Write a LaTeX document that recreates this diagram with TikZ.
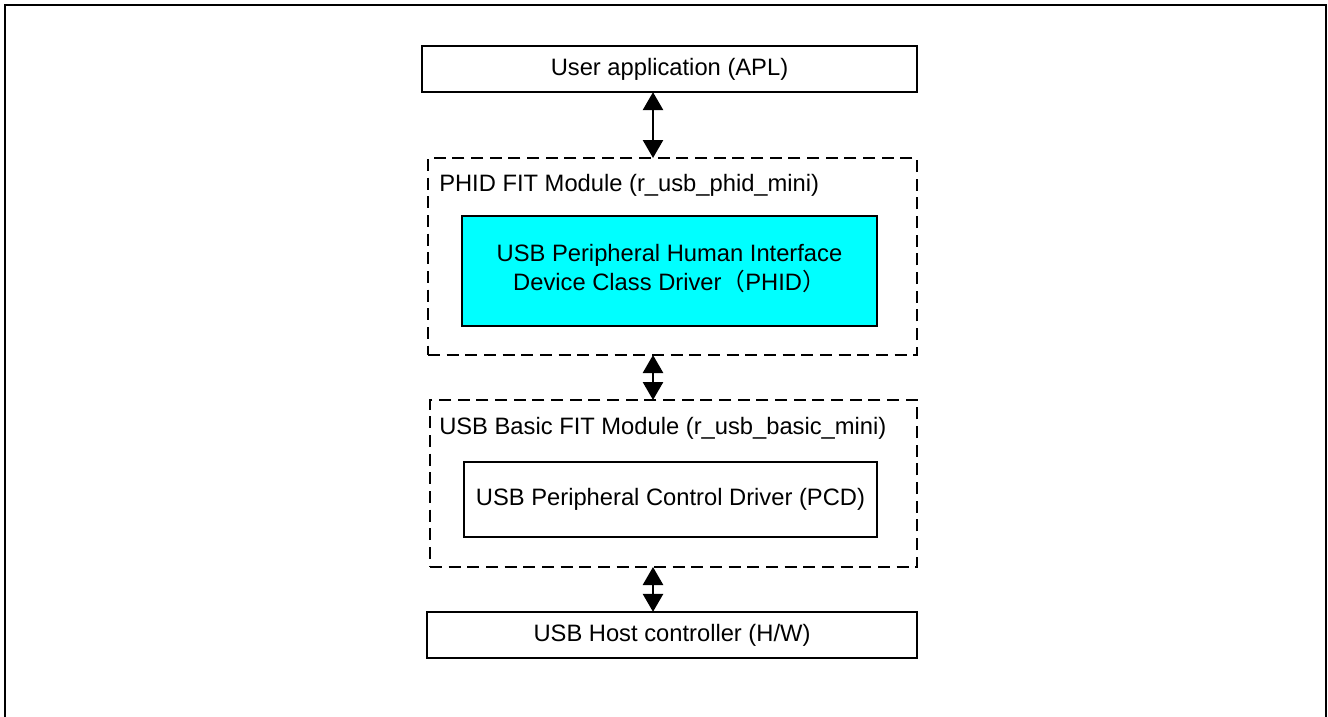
\documentclass[tikz,border=0pt]{standalone}
\usepackage{fontspec}
\setmainfont{Liberation Sans}
\newfontfamily\cjk{Noto Sans CJK SC}
\usetikzlibrary{fit,arrows.meta}
\definecolor{cyanfill}{HTML}{00FFFF}
\begin{document}
\begin{tikzpicture}[x=0.75pt,y=-0.75pt,
  font=\fontsize{17.8pt}{21.75pt}\selectfont,
  box/.style={draw=black,line width=1.2pt,inner sep=0pt},
  dbox/.style={draw=black,line width=1pt,dash pattern=on 9pt off 5pt,inner sep=0pt},
  title/.style={anchor=base west,inner sep=0pt},
  txt/.style={inner sep=0pt,align=center},
  dbl/.style={line width=2pt,{Triangle[length=13.5pt,width=15pt]}-{Triangle[length=13.5pt,width=15pt]},shorten <=-0.5pt,shorten >=-0.5pt}]
\useasboundingbox (0,0) rectangle (1328,717);
% outer frame (open at the bottom)
\draw[line width=1.5pt] (5,717) -- (5,5) -- (1326,5) -- (1326,717);
% boxes
\node[box,fit={(422,46) (917,92)}] (apl) {};
\node[txt] (aplt) at (apl.center) {User application (APL)};
\node[dbox,fit={(428,158) (917,355)}] (phid) {};
\node[title] (phidt) at (439,191) {PHID FIT Module (r\_usb\_phid\_mini)};
\node[box,fill=cyanfill,fit={(462,216) (877,326)}] (drv) {};
\node[txt] (drvt) at ([yshift=1.5pt]drv.center)
  {USB Peripheral Human Interface\\Device Class Driver{\cjk （}PHID{\cjk ）}};
\node[dbox,fit={(430,400) (917,567)}] (basic) {};
\node[title] (basict) at (439,434) {USB Basic FIT Module (r\_usb\_basic\_mini)};
\node[box,fit={(464,462) (877,537)}] (pcd) {};
\node[txt] (pcdt) at (pcd.center) {USB Peripheral Control Driver (PCD)};
\node[box,fit={(427,612) (917,658)}] (host) {};
\node[txt] (hostt) at (host.center) {USB Host controller (H/W)};
% connectors
\coordinate (ax) at (653,0);
\draw[dbl] (apl.south -| ax) -- (phid.north -| ax);
\draw[dbl] (phid.south -| ax) -- (basic.north -| ax);
\draw[dbl] (basic.south -| ax) -- (host.north -| ax);
\end{tikzpicture}
\end{document}
